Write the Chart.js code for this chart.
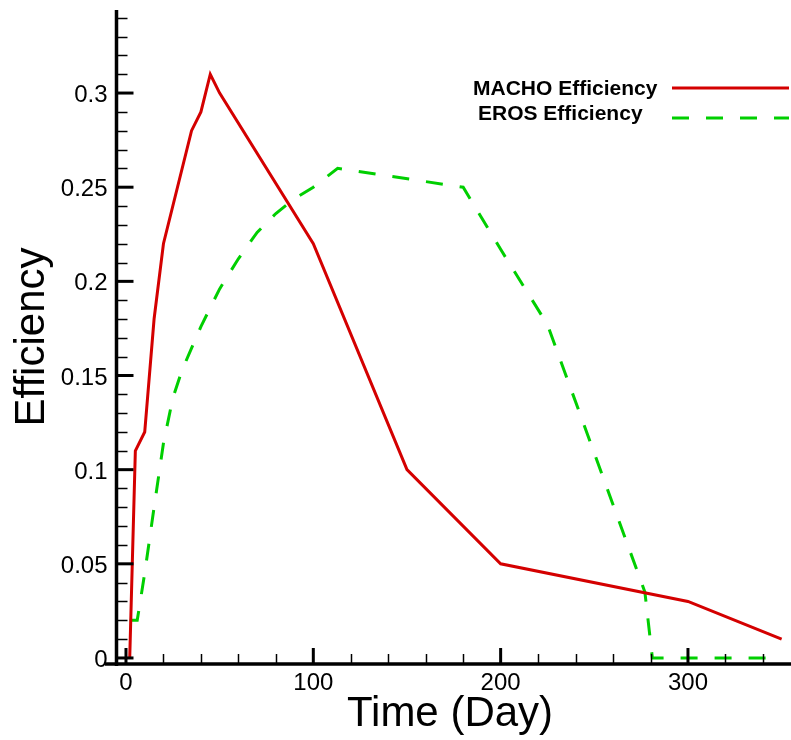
<!DOCTYPE html>
<html>
<head>
<meta charset="utf-8">
<title>Efficiency</title>
<script src="https://cdn.jsdelivr.net/npm/chart.js@4/dist/chart.umd.min.js"></script>
<style>
  body { margin: 0; background: #fff; }
  #wrap { width: 791px; height: 740px; }
</style>
</head>
<body>
<div id="wrap"><canvas id="eff_chart"></canvas></div>
<script>
// detection efficiency vs. event time scale
const machoDays = [2, 5, 10, 15, 20, 35, 40, 45, 50, 100, 150, 200, 300, 350];
const machoEff  = [0, 0.11, 0.12, 0.18, 0.22, 0.28, 0.29, 0.31, 0.30, 0.22, 0.10, 0.05, 0.03, 0.01];

const erosDays = [2, 6, 10, 15, 20, 25, 30, 40, 50, 60, 70, 80, 90, 100, 113, 180, 200, 225, 277, 281, 350];
const erosEff  = [0.02, 0.02, 0.045, 0.08, 0.114, 0.138, 0.153, 0.176, 0.196, 0.212, 0.226, 0.236, 0.244, 0.25, 0.26, 0.25, 0.217, 0.177, 0.035, 0, 0];

const xMajor = [0, 100, 200, 300];
const xLabels = ['0', '100', '200', '300'];
const yMajor = [0, 0.05, 0.1, 0.15, 0.2, 0.25, 0.3];
const yLabels = ['0', '0.05', '0.1', '0.15', '0.2', '0.25', '0.3'];

const FONT = '"Liberation Sans", Arial, Helvetica, sans-serif';

function toPoints(xs, ys) {
    return xs.map((d, i) => ({ x: d, y: ys[i] }));
}

function tickLine(ctx, x1, y1, x2, y2, w) {
    ctx.lineWidth = w;
    ctx.beginPath();
    ctx.moveTo(x1, y1);
    ctx.lineTo(x2, y2);
    ctx.stroke();
}

// tecplot-like axes: ticks point inward, y axis sits a little left of day 0
const axesPlugin = {
    id: 'tecAxes',
    afterDatasetsDraw(chart) {
        const { ctx, chartArea: a, scales: { x, y } } = chart;
        const ax = a.left + 11.5;
        const ay = a.bottom;
        ctx.save();
        ctx.strokeStyle = '#000';
        ctx.fillStyle = '#000';
        ctx.lineCap = 'butt';

        // minor ticks
        for (let v = 20; v < x.max; v += 20) {
            if (v % 100 === 0) continue;
            const px = Math.round(x.getPixelForValue(v)) + 0.5;
            tickLine(ctx, px, ay, px, ay - 10, 1.5);
        }
        for (let k = 1; k / 100 < y.max; k++) {
            if (k % 5 === 0) continue;
            const py = Math.round(y.getPixelForValue(k / 100)) + 0.5;
            tickLine(ctx, ax, py, ax + 11, py, 1.5);
        }
        // major ticks + labels
        ctx.font = '24px ' + FONT;
        ctx.textAlign = 'center';
        ctx.textBaseline = 'alphabetic';
        xMajor.forEach((v, i) => {
            const px = x.getPixelForValue(v);
            tickLine(ctx, px, ay, px, ay - 16, 3);
            ctx.fillText(xLabels[i], px, ay + 26);
        });
        ctx.textAlign = 'right';
        yMajor.forEach((v, i) => {
            const py = y.getPixelForValue(v);
            tickLine(ctx, ax, py, ax + 17, py, 3);
            ctx.fillText(yLabels[i], ax - 9, py + 9);
        });

        // axis lines
        tickLine(ctx, ax, a.top, ax, ay + 2, 3.5);
        tickLine(ctx, a.left, ay, a.right, ay, 3.5);

        // axis titles
        ctx.font = '42px ' + FONT;
        ctx.textAlign = 'center';
        ctx.fillText('Time (Day)', (a.left + a.right) / 2 + 2, ay + 62);
        ctx.translate(44, (a.top + a.bottom) / 2);
        ctx.rotate(-Math.PI / 2);
        ctx.fillText('Efficiency', 0, 0);
        ctx.restore();
    }
};

// legend in the upper right: label text then a sample of the line
const legendPlugin = {
    id: 'tecLegend',
    afterDraw(chart) {
        const ctx = chart.ctx;
        const rows = [
            { textX: 473, textY: 95, lineY: 88 },
            { textX: 478, textY: 120, lineY: 118 }
        ];
        ctx.save();
        ctx.font = 'bold 21px ' + FONT;
        ctx.fillStyle = '#000';
        ctx.textAlign = 'left';
        chart.data.datasets.forEach((ds, i) => {
            const r = rows[i];
            ctx.fillText(ds.label, r.textX, r.textY);
            ctx.strokeStyle = ds.borderColor;
            ctx.lineWidth = ds.borderWidth;
            ctx.setLineDash(ds.borderDash || []);
            ctx.beginPath();
            ctx.moveTo(672, r.lineY);
            ctx.lineTo(789, r.lineY);
            ctx.stroke();
        });
        ctx.restore();
    }
};

let ctx = document.getElementById('eff_chart');

var eff_chart = new Chart(ctx, {
    type: 'line',
    data: {
        datasets: [{
            label: 'MACHO Efficiency',
            data: toPoints(machoDays, machoEff),
            borderColor: '#d40000',
            borderWidth: 3,
            pointRadius: 0,
            tension: 0
        }, {
            label: 'EROS Efficiency',
            data: toPoints(erosDays, erosEff),
            borderColor: '#00cf00',
            borderWidth: 3,
            borderDash: [17, 17],
            pointRadius: 0,
            tension: 0
        }]
    },
    options: {
        responsive: true,
        maintainAspectRatio: false,
        animation: false,
        layout: { padding: { left: 105, top: 10, right: 0, bottom: 76 } },
        plugins: {
            legend: { display: false },
            tooltip: { enabled: false }
        },
        scales: {
            x: { type: 'linear', min: -11.2, max: 355, display: false },
            y: { type: 'linear', min: -0.0032, max: 0.3441, display: false }
        }
    },
    plugins: [axesPlugin, legendPlugin]
});
</script>
</body>
</html>
